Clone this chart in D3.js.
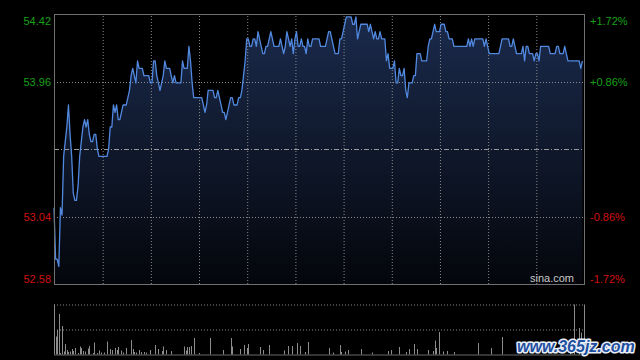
<!DOCTYPE html>
<html>
<head>
<meta charset="utf-8">
<script src="https://cdn.jsdelivr.net/npm/d3@7"></script>
<style>
  html, body { margin: 0; padding: 0; background: #000; }
  svg { display: block; }
  text { font-family: "Liberation Sans", Arial, sans-serif; }
</style>
</head>
<body>
<svg id="chart" width="640" height="360"></svg>
<script>
// ---- data ----
const prevClose = 53.50;
const priceTicks = [54.42, 53.96, 53.50, 53.04, 52.58];
const labelTicks = [54.42, 53.96, 53.04, 52.58];
const gridMinutes = [30, 60, 90, 120, 150, 180, 210, 240, 270, 300];
// one price per minute (HK session, 330 minutes)
const prices = [
  53.10, 52.75, 52.75, 52.70, 53.10, 53.05, 53.45, 53.55, 53.65, 53.80,
  53.60, 53.45, 53.20, 53.15, 53.15, 53.25, 53.45, 53.55, 53.65, 53.70,
  53.65, 53.70, 53.60, 53.55, 53.55, 53.60, 53.60, 53.50, 53.45, 53.45,
  53.45, 53.45, 53.45, 53.45, 53.50, 53.65, 53.65, 53.80, 53.75, 53.80,
  53.70, 53.70, 53.75, 53.80, 53.80, 53.80, 53.85, 53.90, 54.00, 54.05,
  54.00, 53.95, 54.10, 54.05, 54.05, 54.05, 54.00, 54.00, 54.00, 54.00,
  53.95, 53.95, 54.10, 54.10, 54.00, 53.95, 53.90, 53.95, 54.00, 54.10,
  54.05, 54.05, 54.05, 54.00, 53.95, 54.00, 53.95, 53.95, 53.95, 53.95,
  54.10, 54.05, 54.05, 54.05, 54.20, 54.10, 53.95, 53.85, 53.85, 53.85,
  53.85, 53.85, 53.85, 53.80, 53.75, 53.80, 53.90, 53.90, 53.90, 53.90,
  53.85, 53.85, 53.90, 53.85, 53.80, 53.75, 53.75, 53.70, 53.75, 53.80,
  53.85, 53.85, 53.80, 53.80, 53.80, 53.85, 53.85, 53.90, 54.00, 54.10,
  54.25, 54.25, 54.20, 54.20, 54.25, 54.25, 54.20, 54.30, 54.25, 54.20,
  54.15, 54.15, 54.20, 54.20, 54.25, 54.30, 54.25, 54.20, 54.20, 54.20,
  54.20, 54.25, 54.20, 54.15, 54.20, 54.30, 54.25, 54.20, 54.25, 54.15,
  54.25, 54.30, 54.20, 54.20, 54.25, 54.20, 54.20, 54.15, 54.25, 54.20,
  54.20, 54.25, 54.25, 54.25, 54.25, 54.25, 54.20, 54.20, 54.20, 54.20,
  54.25, 54.30, 54.30, 54.25, 54.20, 54.15, 54.15, 54.15, 54.25, 54.25,
  54.30, 54.35, 54.40, 54.40, 54.40, 54.40, 54.35, 54.35, 54.40, 54.25,
  54.30, 54.35, 54.35, 54.35, 54.35, 54.35, 54.30, 54.35, 54.30, 54.25,
  54.30, 54.25, 54.25, 54.30, 54.25, 54.25, 54.25, 54.10, 54.15, 54.05,
  54.05, 54.05, 54.10, 53.95, 53.95, 54.05, 54.00, 54.00, 54.05, 53.90,
  53.85, 53.95, 53.95, 53.95, 54.00, 54.00, 54.15, 54.15, 54.15, 54.10,
  54.10, 54.10, 54.10, 54.20, 54.25, 54.25, 54.30, 54.35, 54.30, 54.30,
  54.30, 54.35, 54.35, 54.35, 54.30, 54.30, 54.25, 54.25, 54.25, 54.20,
  54.20, 54.20, 54.20, 54.20, 54.20, 54.20, 54.20, 54.20, 54.25, 54.20,
  54.25, 54.20, 54.25, 54.25, 54.25, 54.25, 54.25, 54.25, 54.20, 54.25,
  54.20, 54.15, 54.15, 54.15, 54.15, 54.15, 54.15, 54.15, 54.20, 54.25,
  54.25, 54.25, 54.25, 54.25, 54.20, 54.20, 54.25, 54.20, 54.15, 54.15,
  54.15, 54.15, 54.20, 54.10, 54.20, 54.20, 54.15, 54.15, 54.15, 54.10,
  54.15, 54.15, 54.10, 54.20, 54.20, 54.20, 54.20, 54.20, 54.20, 54.15,
  54.15, 54.15, 54.15, 54.20, 54.20, 54.15, 54.15, 54.15, 54.20, 54.15,
  54.10, 54.10, 54.10, 54.10, 54.10, 54.10, 54.10, 54.10, 54.05, 54.10
];
// volume bars (minute index, relative volume 0..100 of panel height)
const volMinutes = [1, 2, 3, 4, 5, 6, 7, 8, 9, 10, 11, 12, 13, 15, 16, 17, 18, 19, 21, 22,
  24, 25, 27, 28, 29, 31, 33, 35, 36, 38, 39, 40, 42, 43, 45, 48, 49, 50, 51, 53,
  54, 56, 57, 60, 63, 65, 67, 68, 70, 73, 81, 82, 83, 84, 85, 87, 90, 97, 105, 110,
  111, 116, 118, 120, 121, 128, 130, 134, 143, 146, 148, 151, 153, 156, 158, 171, 174, 178, 179, 181,
  183, 191, 198, 208, 210, 215, 219, 221, 224, 226, 233, 236, 237, 238, 240, 242, 245, 249, 264, 272,
  279, 321, 324, 327, 328];
const volValues = [36, 49, 81, 3, 57, 6, 21, 9, 5, 6, 11, 7, 13, 3, 16, 13, 7, 6, 12, 17,
  3, 24, 3, 8, 4, 4, 26, 11, 9, 13, 9, 15, 8, 4, 13, 29, 11, 5, 4, 9,
  5, 5, 4, 9, 19, 11, 7, 16, 9, 7, 16, 8, 15, 15, 17, 33, 3, 33, 9, 33,
  16, 11, 19, 13, 21, 15, 9, 19, 8, 17, 17, 23, 17, 5, 25, 13, 4, 19, 5, 6,
  9, 11, 4, 7, 9, 15, 5, 11, 21, 11, 9, 7, 28, 13, 45, 6, 7, 5, 23, 13,
  35, 22, 100, 53, 44];

// ---- layout ----
const L = 54, R = 584, T = 14, B = 284;
const VT = 304.5, VB = 354.5;
const svg = d3.select("#chart");
svg.append("rect").attr("width", 640).attr("height", 360).attr("fill", "#000");

const x = d3.scaleLinear().domain([0, 330]).range([L, R]);
const y = d3.scaleLinear().domain([52.58, 54.42]).range([B, T]);
const yv = d3.scaleLinear().domain([0, 100]).range([VB, VT]);

const defs = svg.append("defs");
const grad = defs.append("linearGradient").attr("id", "fillGrad")
  .attr("gradientUnits", "userSpaceOnUse").attr("x1", 0).attr("y1", T).attr("x2", 0).attr("y2", B);
grad.append("stop").attr("offset", "0%").attr("stop-color", "#1b2b4d");
grad.append("stop").attr("offset", "100%").attr("stop-color", "#04060b");

const data = prices.map((p, i) => ({ m: i, p }));

// area
svg.append("path").datum(data)
  .attr("fill", "url(#fillGrad)")
  .attr("d", d3.area().x(d => x(d.m)).y0(B).y1(d => y(d.p)));

// vertical grid
svg.append("g").attr("transform", `translate(0,${B})`)
  .call(d3.axisBottom(x).tickValues(gridMinutes).tickSize(-(B - T)).tickFormat(""))
  .call(g => g.select(".domain").remove())
  .call(g => g.selectAll("line").attr("stroke", "#8a8a8a").attr("stroke-dasharray", "1,2")
    .attr("transform", function() { return "translate(0.5,0)"; }));

// horizontal grid
svg.append("g").attr("transform", `translate(${L},0)`)
  .call(d3.axisLeft(y).tickValues([53.96, 53.04]).tickSize(-(R - L)).tickFormat(""))
  .call(g => g.select(".domain").remove())
  .call(g => g.selectAll("line").attr("stroke", "#8a8a8a").attr("stroke-dasharray", "1,2")
    .attr("transform", "translate(0,0.5)"));

// previous close dash-dot line
svg.append("line")
  .attr("x1", L).attr("x2", R)
  .attr("y1", Math.round(y(prevClose)) + 0.5).attr("y2", Math.round(y(prevClose)) + 0.5)
  .attr("stroke", "#9a9a9a").attr("stroke-dasharray", "5,2,1,2");

// price line
svg.append("path").datum(data)
  .attr("fill", "none").attr("stroke", "#5289e0").attr("stroke-width", 1.3)
  .attr("stroke-linejoin", "round")
  .attr("d", d3.line().x(d => x(d.m)).y(d => y(d.p)));

// border
svg.append("rect").attr("x", L + 0.5).attr("y", T + 0.5)
  .attr("width", R - L).attr("height", B - T)
  .attr("fill", "none").attr("stroke", "#707070");

// left axis labels
const fmtPct = v => {
  const pct = (v - prevClose) / prevClose * 100;
  return (pct > 0 ? "+" : pct < 0 ? "-" : "") + Math.abs(pct).toFixed(2) + "%";
};
const colorOf = v => v > prevClose ? "#17a017" : "#d01010";
const shift = v => v === priceTicks[0] ? 6 : v === priceTicks[priceTicks.length - 1] ? -6 : 0;

svg.append("g").attr("transform", `translate(${L},0)`)
  .call(d3.axisLeft(y).tickValues(labelTicks).tickSize(0).tickPadding(3).tickFormat(d3.format(".2f")))
  .call(g => g.select(".domain").remove())
  .call(g => g.selectAll("text")
    .attr("font-size", 11).attr("font-family", "Liberation Sans, Arial, sans-serif")
    .attr("fill", d => colorOf(d)).attr("dy", d => (shift(d) + 4) + "px"));

svg.append("g").attr("transform", `translate(${R},0)`)
  .call(d3.axisRight(y).tickValues(labelTicks).tickSize(0).tickPadding(6).tickFormat(fmtPct))
  .call(g => g.select(".domain").remove())
  .call(g => g.selectAll("text")
    .attr("font-size", 11).attr("font-family", "Liberation Sans, Arial, sans-serif")
    .attr("fill", d => colorOf(d)).attr("dy", d => (shift(d) + 4) + "px"));

// source text
svg.append("text").attr("x", R - 10).attr("y", B - 2)
  .attr("text-anchor", "end").attr("font-size", 11).attr("fill", "#c8c8c8").text("sina.com");

// ---- volume panel ----
const vol = svg.append("g");
vol.append("g").attr("transform", `translate(${L},0)`)
  .call(d3.axisLeft(yv).tickValues([100, 50]).tickSize(-(R - L)).tickFormat(""))
  .call(g => g.select(".domain").remove())
  .call(g => g.selectAll("line").attr("stroke", "#8a8a8a").attr("stroke-dasharray", "1,2"));

vol.selectAll("line.bar").data(volMinutes.map((m, i) => ({ m, v: volValues[i] })))
  .join("line").attr("class", "bar")
  .attr("x1", d => Math.round(x(d.m)) + 0.5).attr("x2", d => Math.round(x(d.m)) + 0.5)
  .attr("y1", yv(0)).attr("y2", d => yv(d.v))
  .attr("stroke", "#8c8c8c").attr("stroke-width", 1);

vol.append("line").attr("x1", L).attr("x2", R + 1).attr("y1", VB + 0.5).attr("y2", VB + 0.5)
  .attr("stroke", "#6a6a6a");
vol.append("line").attr("x1", L + 0.5).attr("x2", L + 0.5).attr("y1", VT).attr("y2", VB)
  .attr("stroke", "#8a8a8a");
vol.append("line").attr("x1", R + 0.5).attr("x2", R + 0.5).attr("y1", VT).attr("y2", VB)
  .attr("stroke", "#8a8a8a");

// watermark
svg.append("text").attr("x", 517).attr("y", 352)
  .attr("font-size", 16).attr("font-weight", "bold").attr("font-style", "italic")
  .attr("fill", "#1f4f9f").attr("stroke", "#e8eef8").attr("stroke-width", 3)
  .attr("paint-order", "stroke").attr("stroke-linejoin", "round")
  .text("www.365jz.com");
</script>
</body>
</html>
